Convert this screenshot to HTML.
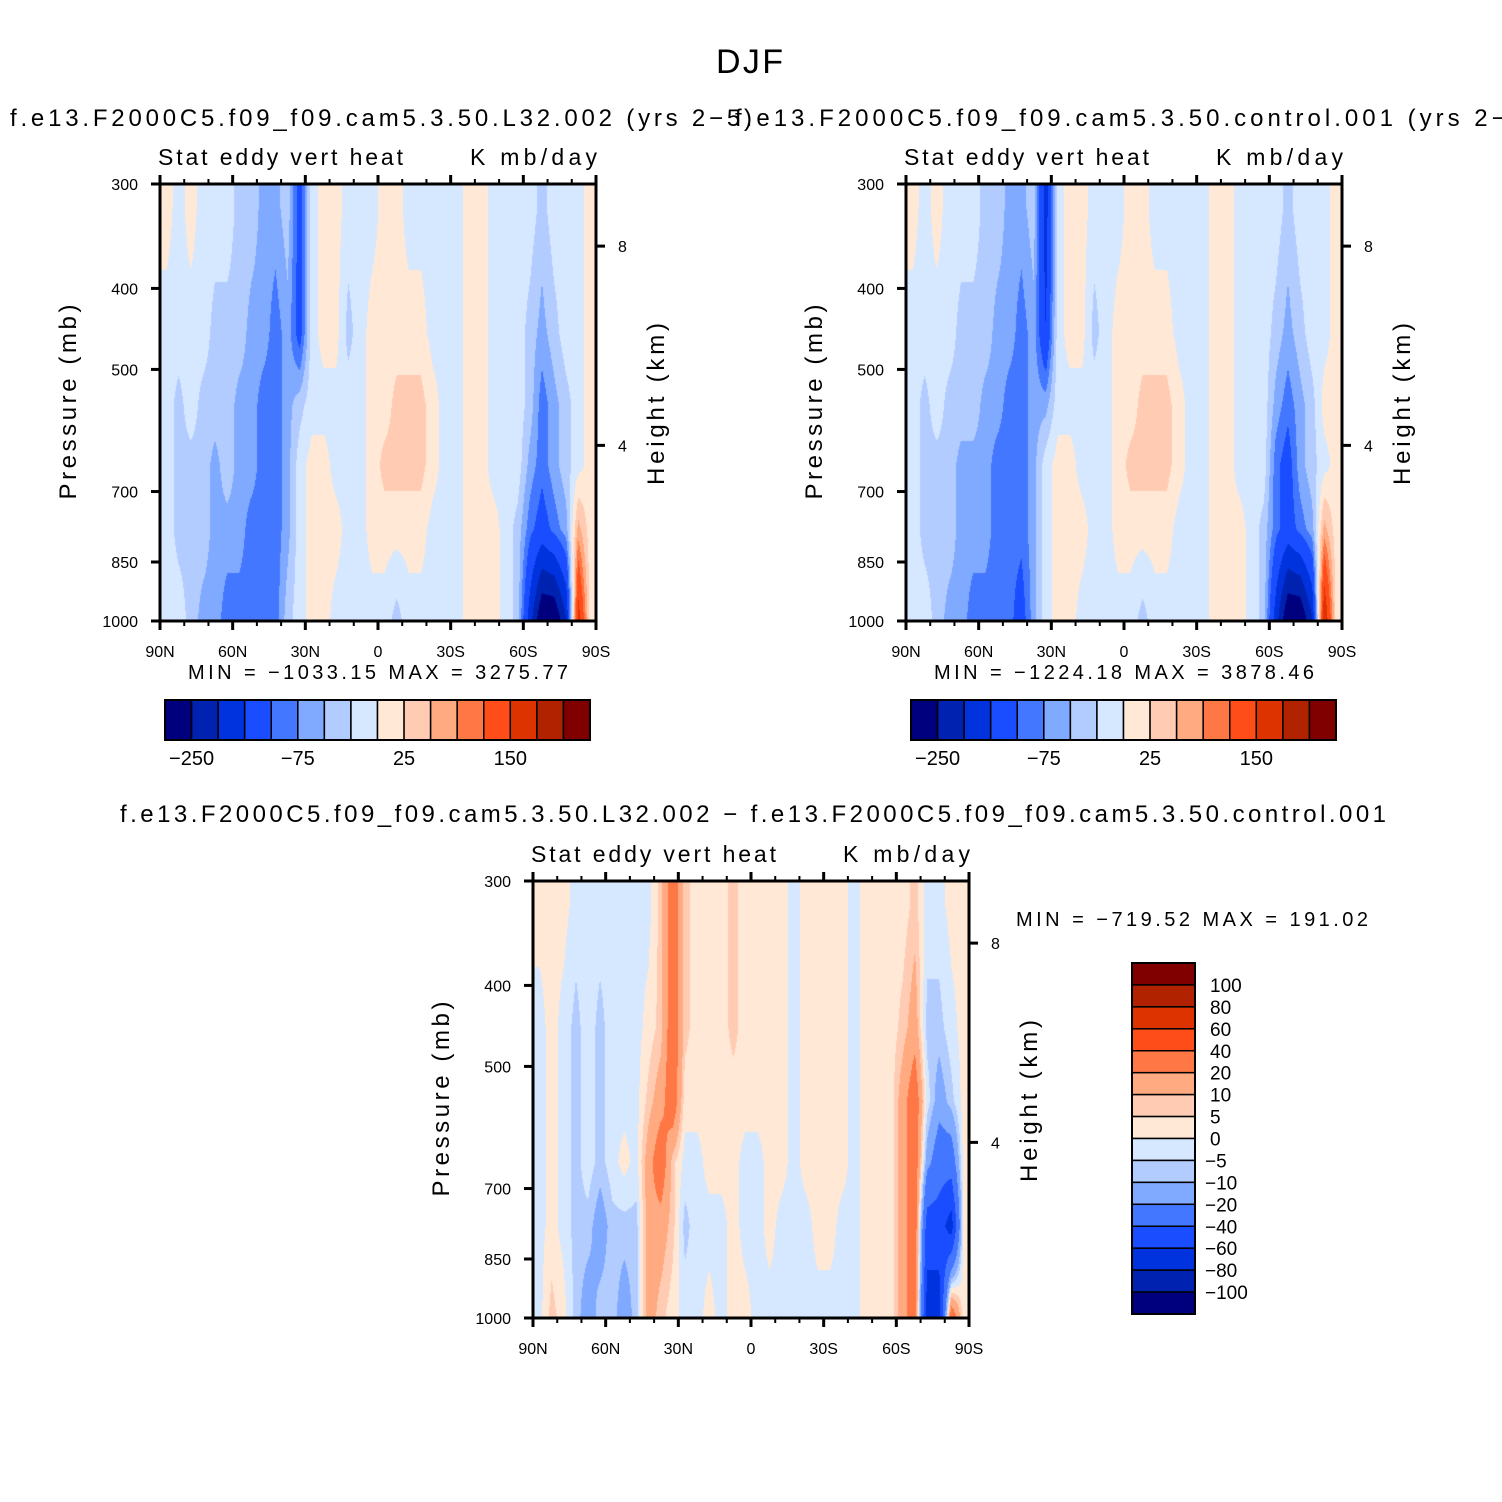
<!DOCTYPE html>
<html><head><meta charset="utf-8">
<style>
html,body{margin:0;padding:0;background:#fff;}
#wrap{position:relative;width:1502px;height:1502px;overflow:hidden;font-family:"Liberation Sans",sans-serif;}
canvas{position:absolute;}
svg{position:absolute;left:0;top:0;}
text{font-family:"Liberation Sans",sans-serif;fill:#000;}
</style></head>
<body>
<div id="wrap">
<canvas id="c1" width="436" height="437" style="left:160px;top:184px"></canvas>
<canvas id="c2" width="436" height="437" style="left:906px;top:184px"></canvas>
<canvas id="c3" width="436" height="437" style="left:533px;top:881px"></canvas>
<svg id="svg" width="1502" height="1502"></svg>
</div>
<script>
// ---- data ----
const colors = ["#00007f","#0022b0","#0033dd","#1a4dff","#4477ff","#80aaff","#b3ccff","#d6e8ff","#ffe8d6","#ffccb3","#ffaa80","#ff7744","#ff4d1a","#dd3300","#b02200","#800000"];
const levelsAbs = [-250,-200,-150,-100,-75,-50,-25,0,25,50,75,100,150,200,250];
const levelsDiff = [-100,-80,-60,-40,-20,-10,-5,0,5,10,20,40,60,80,100];
const absTickLabels = ["-250","-75","25","150"];
const diffTickLabels = ["100","80","60","40","20","10","5","0","-5","-10","-20","-40","-60","-80","-100"];
const latLabels = ["90N","60N","30N","0","30S","60S","90S"];
const pressTicks = [300,400,500,700,850,1000];
const heightTicks = [8,4];
const bandPressures = [320,450,550,650,775,990];
// columns 90N -> 90S, 5 degree bands; values at bandPressures
const field1 = [
[10,-10,-10,-10,-10,-10],[-10,-10,-35,-35,-35,-10],[10,-10,-10,-35,-35,-35],[-10,-10,-35,-35,-35,-60],
[-10,-35,-35,-60,-60,-60],[-10,-35,-35,-35,-60,-90],[-35,-35,-60,-60,-60,-90],[-35,-60,-60,-60,-90,-90],
[-60,-60,-90,-90,-90,-90],[-60,-90,-90,-90,-90,-90],[-35,-60,-60,-60,-60,-35],[-120,-120,-35,-10,-10,-10],
[-10,-10,-10,10,10,10],[10,10,-10,10,10,10],[10,10,-10,-10,10,-10],[-10,-35,-10,-10,-10,-10],
[-10,-10,-10,-10,-10,-10],[-10,10,10,10,10,-10],[10,10,10,35,10,-10],[10,10,35,35,10,-35],
[-10,10,35,35,10,-10],[-10,10,35,35,10,-10],[-10,-10,10,10,-10,-10],[-10,-10,-10,-10,-10,-10],
[-10,-10,-10,-10,-10,-10],[10,10,10,10,10,10],[10,10,10,10,10,10],[-10,-10,-10,-10,10,10],
[-10,-10,-10,-10,-10,-10],[-10,-10,-10,-10,-35,-35],[-10,-35,-35,-60,-90,-175],[-35,-60,-90,-90,-120,-300],
[-10,-35,-60,-60,-90,-300],[-10,-10,-35,-35,-60,-200],[-10,-10,-10,-10,60,175],[10,10,10,10,10,10]];
const field2 = [
[10,-10,-10,-10,-10,-10],[-10,-10,-35,-35,-35,-10],[10,-10,-10,-35,-35,-35],[-10,-10,-35,-35,-35,-60],
[-10,-35,-35,-60,-60,-60],[-10,-35,-35,-60,-60,-90],[-35,-35,-60,-60,-60,-90],[-35,-60,-60,-90,-90,-90],
[-60,-60,-90,-90,-90,-90],[-60,-90,-90,-90,-90,-120],[-35,-60,-60,-60,-60,-60],[-175,-150,-60,-10,-10,-10],
[-10,-10,-10,10,10,10],[10,10,-10,10,10,10],[10,10,-10,-10,10,-10],[-10,-35,-10,-10,-10,-10],
[-10,-10,-10,-10,-10,-10],[-10,10,10,10,10,-10],[10,10,10,35,10,-10],[10,10,35,35,10,-35],
[-10,10,35,35,10,-10],[-10,10,35,35,10,-10],[-10,-10,10,10,-10,-10],[-10,-10,-10,-10,-10,-10],
[-10,-10,-10,-10,-10,-10],[10,10,10,10,10,10],[10,10,10,10,10,10],[-10,-10,-10,-10,10,10],
[-10,-10,-10,-10,-10,-10],[-10,-10,-10,-10,-35,-35],[-10,-35,-60,-90,-90,-175],[-35,-60,-90,-120,-120,-300],
[-10,-35,-60,-60,-90,-300],[-10,-10,-35,-35,-60,-200],[-10,-10,10,-10,60,200],[10,10,10,10,10,10]];
const field3 = [
[2,-2,-2,-2,-2,-2],[2,2,2,2,2,7],[2,-2,-2,-2,-2,2],[-2,-7,-7,-7,-7,-7],
[-2,-2,-2,-2,-7,-15],[-2,-7,-7,-7,-15,-7],[-2,-2,-2,-2,-7,-7],[-2,-2,-2,2,-7,-15],
[-2,-2,-2,-2,-7,-7],[-2,2,7,15,15,15],[7,7,15,30,15,7],[30,30,30,7,7,2],
[7,7,2,-2,-7,-2],[2,2,2,-2,-2,-2],[2,2,2,2,-2,2],[2,2,2,2,-2,-2],
[7,7,2,2,2,2],[2,2,2,-2,-2,2],[2,2,2,-2,-2,-2],[2,2,2,2,2,-2],
[2,2,2,2,-2,-2],[-2,-2,-2,-2,-2,-2],[2,2,2,2,-2,-2],[2,2,2,2,2,-2],
[2,2,2,2,2,-2],[2,2,2,2,-2,-2],[-2,-2,-2,-2,-2,-2],[2,2,2,2,2,2],
[2,2,2,2,2,2],[2,2,2,2,2,2],[2,7,15,15,15,15],[7,15,30,30,30,30],
[-2,-7,-2,-15,-50,-70],[-2,-7,-15,-30,-50,-70],[2,-2,-7,-30,-70,30],[2,2,2,2,2,2]];

// ---- axis helpers ----
const W=436,H=437;
function yOfP(p){return H*(1-Math.log(1000/p)/Math.log(1000/300));}
function pOfZ(km){return 1013.25*Math.pow(1-2.25577e-5*km*1000,5.25588);}
function colorFor(v,lev){let i=0;while(i<lev.length&&v>=lev[i])i++;return colors[i];}
function hexRgb(h){return [parseInt(h.substr(1,2),16),parseInt(h.substr(3,2),16),parseInt(h.substr(5,2),16)];}
function drawField(id,field,lev){
  const cv=document.getElementById(id),ctx=cv.getContext('2d');
  const img=ctx.createImageData(W,H);
  const nc=field.length,nb=bandPressures.length;
  const by=bandPressures.map(yOfP);
  const cache={};
  for(let y=0;y<H;y++){
    let j=0;while(j<nb-2&&y>by[j+1])j++;
    let ty=(y-by[j])/(by[j+1]-by[j]);ty=Math.max(0,Math.min(1,ty));
    for(let x=0;x<W;x++){
      let fx=x/W*nc-0.5;let i=Math.floor(fx);let tx=fx-i;
      if(i<0){i=0;tx=0;}
      if(i>nc-2){i=nc-2;tx=1;}
      const a=field[i][j]*(1-tx)+field[i+1][j]*tx;
      const b=field[i][j+1]*(1-tx)+field[i+1][j+1]*tx;
      const v=a*(1-ty)+b*ty;
      const c=colorFor(v,lev);const rgb=cache[c]||(cache[c]=hexRgb(c));
      const k=(y*W+x)*4;img.data[k]=rgb[0];img.data[k+1]=rgb[1];img.data[k+2]=rgb[2];img.data[k+3]=255;
    }
  }
  ctx.putImageData(img,0,0);
}
drawField('c1',field1,levelsAbs);
drawField('c2',field2,levelsAbs);
drawField('c3',field3,levelsDiff);

const svg=document.getElementById('svg');const NS='http://www.w3.org/2000/svg';
function el(tag,attrs,txt){const e=document.createElementNS(NS,tag);for(const k in attrs)e.setAttribute(k,attrs[k]);if(txt!==undefined)e.textContent=txt;svg.appendChild(e);return e;}

function frame(x0,y0,name){
  const g=el('rect',{x:x0,y:y0,width:W,height:H,fill:'none',stroke:'#000','stroke-width':3});
  
  
  for(let d=0;d<=180;d+=10){
    const x=x0+d/180*W;const major=d%30===0;const L=major?9:5;
    el('line',{x1:x,y1:y0,x2:x,y2:y0-L,stroke:'#000','stroke-width':major?3:2});
    el('line',{x1:x,y1:y0+H,x2:x,y2:y0+H+L,stroke:'#000','stroke-width':major?3:2});
  }
  latLabels.forEach((t,i)=>{
    const lab=el('text',{x:x0+i*W/6,y:y0+H+36,'font-size':16,'text-anchor':'middle'},t);
    
    
  });
  pressTicks.forEach(p=>{
    const y=y0+yOfP(p);
    el('line',{x1:x0,y1:y,x2:x0-9,y2:y,stroke:'#000','stroke-width':3});
    const lab=el('text',{x:x0-22,y:y+6,'font-size':16,'text-anchor':'end'},String(p));
    
    
  });
  heightTicks.forEach(h=>{
    const y=y0+yOfP(pOfZ(h));
    el('line',{x1:x0+W,y1:y,x2:x0+W+9,y2:y,stroke:'#000','stroke-width':3});
    const lab=el('text',{x:x0+W+22,y:y+6,'font-size':16},String(h));
    
    
  });
  const t1=el('text',{x:x0-2,y:y0-19,'font-size':23,textLength:245,lengthAdjust:'spacing'},'Stat eddy vert heat');
  
  
  const t2=el('text',{x:x0+W-126,y:y0-19,'font-size':23,textLength:127,lengthAdjust:'spacing'},'K mb/day');
  
  
  const ya=el('text',{x:0,y:0,'font-size':24,'text-anchor':'middle',transform:`translate(${x0-84},${y0+218}) rotate(-90)`,textLength:195,lengthAdjust:'spacing'},'Pressure (mb)');
  
  
  const ha=el('text',{x:0,y:0,'font-size':24,'text-anchor':'middle',transform:`translate(${x0+W+68},${y0+220}) rotate(-90)`,textLength:162,lengthAdjust:'spacing'},'Height (km)');
  
  
}
frame(160,184,'panel-1');
frame(906,184,'panel-2');
frame(533,881,'panel-diff');

function hbar(x0,y0){
  const bw=(590-165)/16;
  colors.forEach((c,i)=>{
    const r=el('rect',{x:x0+i*bw,y:y0,width:bw,height:40,fill:c,stroke:'#000','stroke-width':1.5});
    
    
  });
  el('rect',{x:x0,y:y0,width:bw*16,height:40,fill:'none',stroke:'#000','stroke-width':2});
  absTickLabels.forEach((t,k)=>{
    const lab=el('text',{x:x0+(1+4*k)*bw,y:y0+65,'font-size':20,'text-anchor':'middle'},t.replace('-','\u2212'));
    
    
  });
}
hbar(165,700);hbar(911,700);
function vbar(x0,y0){
  const bh=(1314-963)/16;
  colors.slice().reverse().forEach((c,i)=>{
    const r=el('rect',{x:x0,y:y0+i*bh,width:63,height:bh,fill:c,stroke:'#000','stroke-width':1.5});
    
    
  });
  el('rect',{x:x0,y:y0,width:63,height:bh*16,fill:'none',stroke:'#000','stroke-width':2});
  diffTickLabels.forEach((t,k)=>{
    const lab=el('text',{x:x0+(t[0]==='-'?73:78),y:y0+(k+1)*bh+7,'font-size':19},t.replace('-','\u2212'));
    
    
  });
}
vbar(1132,963);

function txt(x,y,s,size,len,name){
  const t=el('text',{x:x,y:y,'font-size':size,textLength:len,lengthAdjust:'spacing'},s);
  
  
}
txt(716,73,'DJF',34,67,'figure-title');
txt(10,126,'f.e13.F2000C5.f09_f09.cam5.3.50.L32.002 (yrs 2\u22125)',24,742,'panel-1-title');
txt(735,126,'f.e13.F2000C5.f09_f09.cam5.3.50.control.001 (yrs 2\u22126)',24,800,'panel-2-title');
txt(120,822,'f.e13.F2000C5.f09_f09.cam5.3.50.L32.002 \u2212 f.e13.F2000C5.f09_f09.cam5.3.50.control.001',24,1266,'diff-title');
txt(188,679,'MIN = \u22121033.15   MAX = 3275.77',20,380,'panel-1-minmax');
txt(934,679,'MIN = \u22121224.18   MAX = 3878.46',20,380,'panel-2-minmax');
txt(1016,926,'MIN = \u2212719.52   MAX = 191.02',20,352,'diff-minmax');
</script>
</body></html>
